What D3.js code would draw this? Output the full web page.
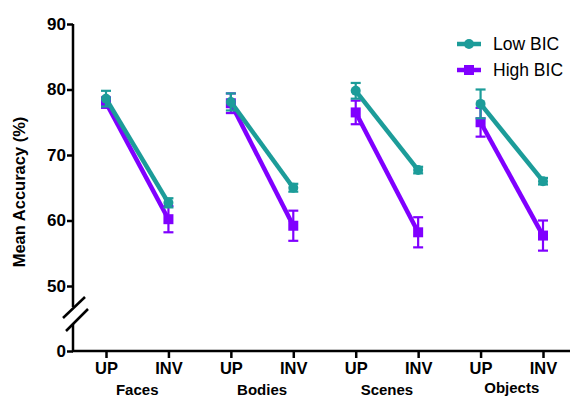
<!DOCTYPE html>
<html>
<head>
<meta charset="utf-8">
<script src="https://cdn.jsdelivr.net/npm/d3@7"></script>
<style>
  body { margin: 0; background: #fff; }
  text { font-family: "Liberation Sans", Arial, sans-serif; }
</style>
</head>
<body>
<div id="chart"></div>
<script>
// data
const categories = ['Faces', 'Bodies', 'Scenes', 'Objects'];
const conditions = ['UP', 'INV'];
const lowBIC = [78.6, 62.7, 78.1, 65.0, 79.8, 67.7, 77.8, 66.0];
const lowBICerr = [1.2, 0.7, 1.3, 0.6, 1.2, 0.5, 2.2, 0.5];
const highBIC = [78.0, 60.2, 77.9, 59.2, 76.5, 58.2, 75.0, 57.7];
const highBICerr = [0.8, 2.0, 1.5, 2.3, 1.8, 2.3, 2.2, 2.3];
const yTicks = [0, 50, 60, 70, 80, 90];

const width = 570, height = 399;
const teal = '#1c9c99', purple = '#8000ff';

const svg = d3.select('#chart').append('svg')
  .attr('width', width)
  .attr('height', height);

const x = d3.scaleLinear().domain([0, 7]).range([106, 543]);
// broken axis: 0..50 squeezed into the bottom segment
const y = d3.scaleLinear().domain([0, 50, 90]).range([351, 286, 24]);

const axisX0 = 73;

// y axis
const yAxis = svg.append('g')
  .attr('transform', `translate(${axisX0},0)`)
  .call(d3.axisLeft(y).tickValues(yTicks).tickSize(6).tickPadding(1))
  .call(g => g.select('.domain').remove());
yAxis.selectAll('.tick line').attr('stroke', '#000').attr('stroke-width', 2.5);
yAxis.selectAll('.tick text')
  .attr('font-size', 17).attr('font-weight', 'bold').attr('fill', '#000')
  .attr('font-family', '"Liberation Sans", Arial, sans-serif');

// axis line with gap for break
svg.append('line').attr('x1', axisX0).attr('x2', axisX0)
  .attr('y1', y(90)).attr('y2', 307).attr('stroke', '#000').attr('stroke-width', 2.5);
svg.append('line').attr('x1', axisX0).attr('x2', axisX0)
  .attr('y1', 324).attr('y2', y(0) + 1).attr('stroke', '#000').attr('stroke-width', 2.5);
// break marks
[[63, 318, 85, 297], [66, 331, 88, 309]].forEach(d => {
  svg.append('line').attr('x1', d[0]).attr('y1', d[1]).attr('x2', d[2]).attr('y2', d[3])
    .attr('stroke', '#000').attr('stroke-width', 2.5);
});

// x axis
const xAxis = svg.append('g')
  .attr('transform', `translate(0,${y(0)})`)
  .call(d3.axisBottom(x).tickValues(d3.range(8)).tickSize(7).tickPadding(4)
    .tickFormat(i => conditions[i % 2]))
  .call(g => g.select('.domain').remove());
xAxis.selectAll('.tick line').attr('stroke', '#000').attr('stroke-width', 2.5);
xAxis.selectAll('.tick text')
  .attr('font-size', 16.5).attr('font-weight', 'bold').attr('fill', '#000')
  .attr('font-family', '"Liberation Sans", Arial, sans-serif');
svg.append('line').attr('x1', axisX0 - 1).attr('x2', width)
  .attr('y1', y(0)).attr('y2', y(0)).attr('stroke', '#000').attr('stroke-width', 2.5);

// category labels
svg.append('g').selectAll('text')
  .data(categories)
  .enter().append('text')
  .attr('x', (d, i) => (x(i * 2) + x(i * 2 + 1)) / 2)
  .attr('y', (d, i) => i === 3 ? 393 : 395)
  .attr('text-anchor', 'middle')
  .attr('font-size', 15).attr('font-weight', 'bold')
  .text(d => d);

// y label
svg.append('text')
  .attr('transform', 'translate(25,192) rotate(-90)')
  .attr('text-anchor', 'middle')
  .attr('font-size', 16.5).attr('font-weight', 'bold')
  .text('Mean Accuracy (%)');

function drawSeries(vals, errs, color, shape) {
  const g = svg.append('g');
  categories.forEach((c, k) => {
    const pts = [k * 2, k * 2 + 1];
    g.append('path')
      .datum(pts)
      .attr('fill', 'none').attr('stroke', color).attr('stroke-width', 4.5)
      .attr('d', d3.line().x(i => x(i)).y(i => y(vals[i])));
  });
  vals.forEach((v, i) => {
    const cx = x(i);
    const eg = g.append('g').attr('stroke', color).attr('stroke-width', 2.2);
    eg.append('line').attr('x1', cx).attr('x2', cx).attr('y1', y(v + errs[i])).attr('y2', y(v - errs[i]));
    eg.append('line').attr('x1', cx - 5).attr('x2', cx + 5).attr('y1', y(v + errs[i])).attr('y2', y(v + errs[i]));
    eg.append('line').attr('x1', cx - 5).attr('x2', cx + 5).attr('y1', y(v - errs[i])).attr('y2', y(v - errs[i]));
    if (shape === 'circle') {
      g.append('circle').attr('cx', cx).attr('cy', y(v)).attr('r', 5).attr('fill', color);
    } else {
      g.append('rect').attr('x', cx - 5).attr('y', y(v) - 5).attr('width', 10).attr('height', 10).attr('fill', color);
    }
  });
}

drawSeries(highBIC, highBICerr, purple, 'square');
drawSeries(lowBIC, lowBICerr, teal, 'circle');

// legend
const legend = [
  { name: 'Low BIC', color: teal, shape: 'circle' },
  { name: 'High BIC', color: purple, shape: 'square' }
];
const lg = svg.append('g');
legend.forEach((d, i) => {
  const ly = 44 + i * 26;
  lg.append('line').attr('x1', 457).attr('x2', 481).attr('y1', ly).attr('y2', ly)
    .attr('stroke', d.color).attr('stroke-width', 4.5);
  if (d.shape === 'circle') {
    lg.append('circle').attr('cx', 469).attr('cy', ly).attr('r', 5).attr('fill', d.color);
  } else {
    lg.append('rect').attr('x', 464).attr('y', ly - 5).attr('width', 10).attr('height', 10).attr('fill', d.color);
  }
  lg.append('text').attr('x', 493).attr('y', ly).attr('dy', '0.35em')
    .attr('font-size', 17.5).text(d.name);
});
</script>
</body>
</html>
